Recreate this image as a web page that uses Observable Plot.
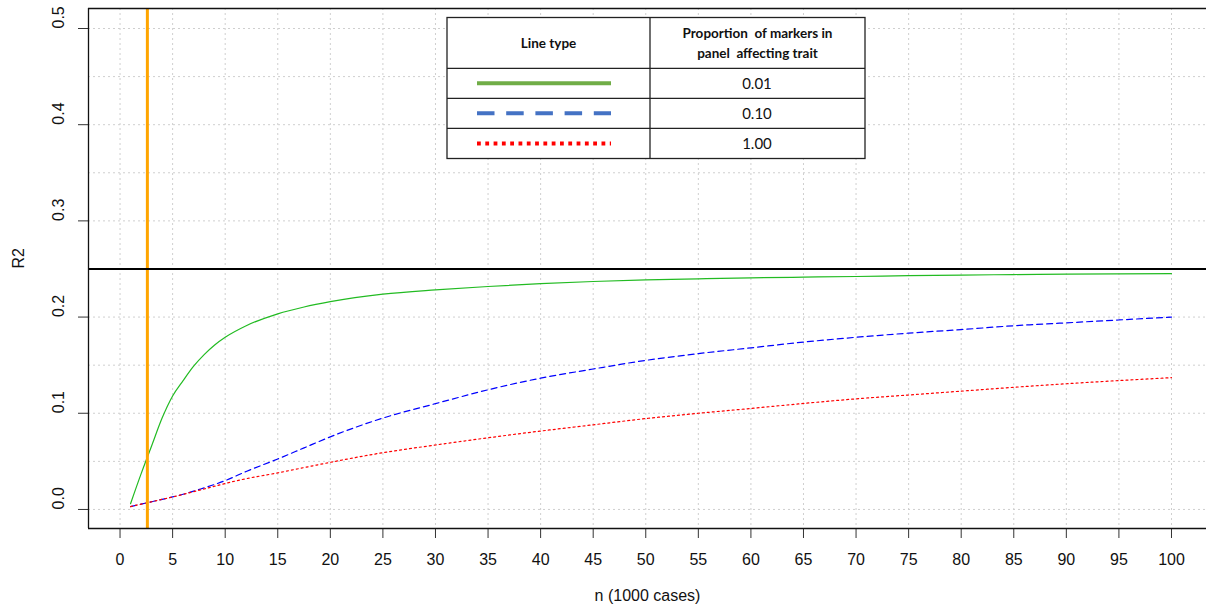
<!DOCTYPE html>
<html><head><meta charset="utf-8">
<script src="https://cdn.jsdelivr.net/npm/d3@7"></script>
<script src="https://cdn.jsdelivr.net/npm/@observablehq/plot@0.6"></script>
<style>
html,body{margin:0;padding:0;background:#fff;overflow:hidden}
svg text{font-family:"Liberation Sans", Arial, Helvetica, sans-serif}
svg g.legend-table text{font-family:Lato, "Open Sans", sans-serif}
</style></head><body><div id="chart"></div>
<script>
// ---- data ----
const nValues = [1,2,3,4,5,6,7,8,9,10,12,15,17.5,20,25,30,35,40,45,50,55,60,65,70,75,80,85,90,95,100];
const r2Prop001 = [0.006,0.037,0.066,0.095,0.118,0.134,0.149,0.161,0.171,0.179,0.191,0.2034,0.2105,0.216,0.2238,0.2283,0.2318,0.2348,0.237,0.2387,0.2398,0.2408,0.2415,0.2422,0.243,0.2437,0.2442,0.2447,0.245,0.2452];
const r2Prop010 = [0.003,0.0055,0.008,0.0105,0.013,0.0158,0.019,0.0225,0.026,0.030,0.0395,0.0525,0.064,0.0755,0.095,0.110,0.1244,0.1365,0.146,0.155,0.162,0.168,0.174,0.179,0.1833,0.187,0.191,0.194,0.197,0.200];
const r2Prop100 = [0.003,0.0055,0.008,0.0105,0.013,0.0157,0.0185,0.0213,0.0242,0.027,0.032,0.038,0.0435,0.049,0.0590,0.067,0.0745,0.0815,0.088,0.0945,0.100,0.105,0.1102,0.115,0.119,0.123,0.127,0.1307,0.134,0.137];
const seriesLabels = ["0.01","0.10","1.00"];
const xTicks = [0,5,10,15,20,25,30,35,40,45,50,55,60,65,70,75,80,85,90,95,100];
const yTicks = [0,0.1,0.2,0.3,0.4,0.5];
const yGridTicks = [0,0.05,0.1,0.15,0.2,0.25,0.3,0.35,0.4,0.45,0.5];
const maxR2 = 0.25;
const cutoffN = 2.6;
const xLabel = "n (1000 cases)";
const yLabel = "R2";
const legendHeader1 = "Line type";
const legendHeader2 = ["Proportion  of markers in", "panel  affecting trait"];

// ---- build ----
const FONT = "Liberation Sans, Arial, Helvetica, sans-serif";
const seriesValues = [r2Prop001, r2Prop010, r2Prop100];
const styles = [
  {stroke:"#22bb22", dash:null, lstroke:"#70AD47", ldash:null},
  {stroke:"#0000ff", dash:"6,4", lstroke:"#4472C4", ldash:"17.5,11.7"},
  {stroke:"#ff0000", dash:"2,3", lstroke:"#FF0000", ldash:"3.8,4.5"}
];
const xDomain = [-3, 103.33];
const yDomain = [-0.0198, 0.5208];

const lineMarks = seriesValues.map((vals, i) =>
  Plot.line(nValues.map((n, j) => ({n, r2: vals[j]})), {
    x: "n", y: "r2", stroke: styles[i].stroke, strokeWidth: 1.2,
    strokeDasharray: styles[i].dash, curve: "monotone-x"
  })
);

const gridStyle = {stroke:"#cfcfcf", strokeOpacity:1, strokeWidth:1, strokeDasharray:"2,3"};

const plot = Plot.plot({
  width: 1206, height: 616,
  marginLeft: 88, marginRight: 0, marginTop: 8, marginBottom: 88,
  style: {fontFamily: FONT, fontSize: "16px", background: "white", overflow: "visible", color: "black"},
  x: {domain: xDomain},
  y: {domain: yDomain},
  marks: [
    Plot.gridX(xTicks, gridStyle),
    Plot.gridY(yGridTicks, gridStyle),
    Plot.axisX(xTicks, {tickSize: 10, tickPadding: 15, fontSize: 16, fontFamily: FONT, label: null, stroke: "#333", fill: "#111"}),
    Plot.axisY(yTicks, {tickSize: 10, tickFormat: () => "", label: null, stroke: "#333"}),
    Plot.text(yTicks, {y: d => d, frameAnchor: "left", dx: -30, rotate: -90, text: d => d.toFixed(1), fontSize: 16, fontFamily: FONT, fill: "#111"}),
    Plot.text([xLabel], {frameAnchor: "bottom", dy: 72, text: d => d, fontSize: 16, fontFamily: FONT, fill: "#111"}),
    Plot.text([yLabel], {frameAnchor: "left", dx: -70, rotate: -90, text: d => d, fontSize: 16, fontFamily: FONT, fill: "#111"}),
    ...lineMarks,
    Plot.ruleX([cutoffN], {stroke: "#FFA500", strokeWidth: 3}),
    Plot.ruleY([maxR2], {stroke: "black", strokeWidth: 2}),
    Plot.ruleX([xDomain[0]], {stroke: "#111", strokeWidth: 1.3}),
    Plot.ruleY(yDomain, {stroke: "#111", strokeWidth: 1.3})
  ]
});
document.getElementById("chart").appendChild(plot);

// ---- legend table ----
const svg = d3.select(plot);
const L = {x0: 447, x1: 865, xm: 650, y0: 17.5, rows: [68.3, 98.3, 128.3], y1: 158.5};
const g = svg.append("g").attr("class", "legend-table").attr("font-family", "Lato, 'Open Sans', sans-serif").attr("fill", "#111");
g.append("rect").attr("x", L.x0).attr("y", L.y0).attr("width", L.x1 - L.x0).attr("height", L.y1 - L.y0)
  .attr("fill", "white").attr("stroke", "#222").attr("stroke-width", 1.3);
L.rows.forEach(y => g.append("line").attr("x1", L.x0).attr("x2", L.x1).attr("y1", y).attr("y2", y).attr("stroke", "#222").attr("stroke-width", 1.3));
g.append("line").attr("x1", L.xm).attr("x2", L.xm).attr("y1", L.y0).attr("y2", L.y1).attr("stroke", "#222").attr("stroke-width", 1.3);
g.append("text").attr("x", (L.x0 + L.xm) / 2).attr("y", (L.y0 + L.rows[0]) / 2).attr("dy", "0.35em")
  .attr("text-anchor", "middle").attr("font-weight", "bold").attr("font-size", 13.5).text(legendHeader1);
legendHeader2.forEach((t, i) => g.append("text").attr("x", (L.xm + L.x1) / 2).attr("y", 33 + i * 20).attr("dy", "0.35em")
  .attr("text-anchor", "middle").attr("font-weight", "bold").attr("font-size", 13.5).text(t));
const rowEdges = [L.rows[0], L.rows[1], L.rows[2], L.y1];
seriesLabels.forEach((lab, i) => {
  const yc = (rowEdges[i] + rowEdges[i + 1]) / 2;
  g.append("line").attr("x1", 477).attr("x2", 611).attr("y1", yc).attr("y2", yc)
    .attr("stroke", styles[i].lstroke).attr("stroke-width", 4)
    .attr("stroke-dasharray", styles[i].ldash);
  g.append("text").attr("x", 757).attr("y", yc).attr("dy", "0.35em").attr("text-anchor", "middle")
    .attr("font-size", 15).text(lab);
});
</script></body></html>
